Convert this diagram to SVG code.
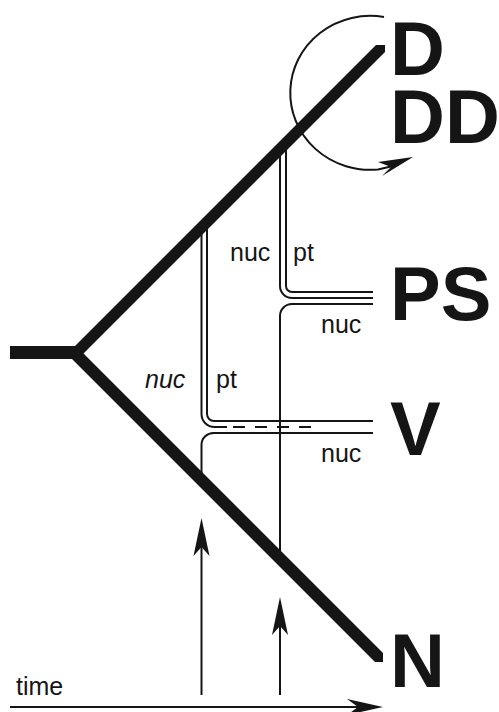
<svg xmlns="http://www.w3.org/2000/svg" width="499" height="712" viewBox="0 0 499 712">
<defs>
<style>
.thin{fill:none;stroke:#151515;stroke-width:2}
.dash{fill:none;stroke:#151515;stroke-width:2;stroke-dasharray:12 10}
.head{fill:#151515;stroke:none}
.big{font-family:"Liberation Sans",Arial,Helvetica,sans-serif;font-weight:bold;font-size:76px;fill:#151515}
.lab{font-family:"Liberation Sans",Arial,Helvetica,sans-serif;font-size:25px;fill:#151515}
</style>
</defs>
<rect width="499" height="712" fill="#fff"/>
<g id="connectors">
<!-- upper group -->
<path class="thin" d="M286,145 V286 A6,6 0 0 0 292,292 H373"/>
<path class="thin" d="M280,150 V286 A12,12 0 0 0 292,298 H373"/>
<path class="thin" d="M373,304 H292 A12,12 0 0 0 280,316 V553"/>
<!-- lower group -->
<path class="thin" d="M207,222 V414 A7,7 0 0 0 214,421 H373"/>
<path class="thin" d="M201.5,228 V414 A13,13 0 0 0 214.5,427 H227"/>
<path class="dash" d="M233,427 H311"/>
<path class="thin" d="M373,433 H214 A12,12 0 0 0 201.5,445 V474"/>
<!-- upward arrows -->
<path class="thin" d="M201.5,695 V545"/>
<polygon class="head" points="201.5,518 209.5,556 201.5,547 193.5,556"/>
<path class="thin" d="M280,695 V624"/>
<polygon class="head" points="280,597 288,635 280,626 272,635"/>
<!-- time axis -->
<path class="thin" d="M10,707 H360"/>
<polygon class="head" points="383,707 347,699 358,707 347,715"/>
<!-- self loop around D -->
<path class="thin" d="M384,17 A80,77 0 1 0 378,169.5 L391,166.5"/>
<polygon class="head" points="413,157 378,162 391,167 382,176"/>
</g>
<g id="tree">
<polygon fill="#151515" points="376,45 385,45 385,52 83.5,353.5 383,653 383,662 375,662 72,359 10,359 10,346 75,346"/>
</g>
<g id="node-D"><text class="big" x="390" y="75">D</text></g>
<g id="node-DD"><text class="big" x="390" y="143">DD</text></g>
<g id="node-PS"><text class="big" x="390" y="320">PS</text></g>
<g id="node-V"><text class="big" x="390" y="455">V</text></g>
<g id="node-N"><text class="big" x="390" y="687">N</text></g>
<g id="labels">
<text class="lab" x="230" y="261">nuc</text>
<text class="lab" x="293" y="261">pt</text>
<text class="lab" x="321" y="333">nuc</text>
<text class="lab" x="145" y="388" font-style="italic">nuc</text>
<text class="lab" x="216" y="388">pt</text>
<text class="lab" x="321" y="462">nuc</text>
<text class="lab" x="16" y="695">time</text>
</g>
</svg>
